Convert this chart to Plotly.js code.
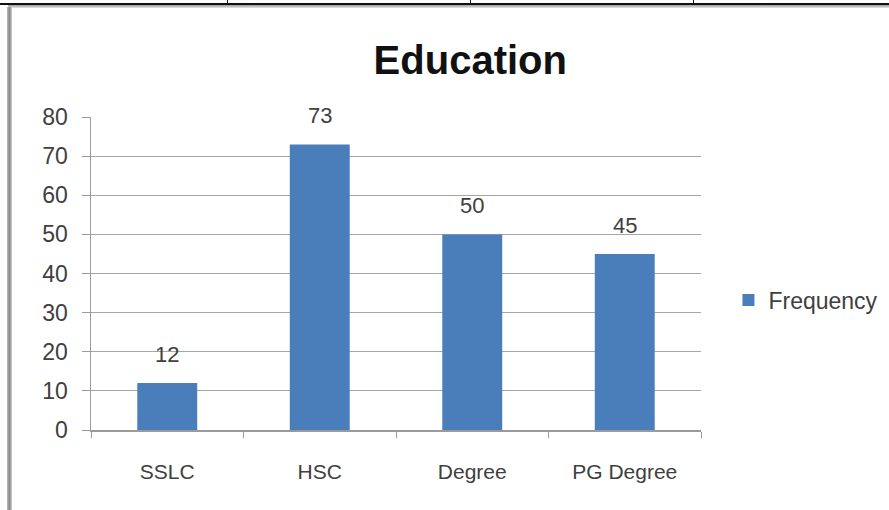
<!DOCTYPE html>
<html>
<head>
<meta charset="utf-8">
<script src="https://cdn.plot.ly/plotly-3.0.1.min.js"></script>
<style>
  html, body { margin: 0; padding: 0; background: #ffffff; }
  #wrap { position: relative; width: 889px; height: 510px; overflow: hidden; }
  #chart { position: absolute; left: 0; top: 0; width: 889px; height: 510px; }
  .rule { position: absolute; pointer-events: none; }
</style>
</head>
<body>
<div id="wrap">
  <div id="chart"></div>
  <!-- table rules around the chart frame -->
  <div class="rule" style="left:0;top:3px;width:889px;height:2px;background:#111;"></div>
  <div class="rule" style="left:227px;top:0;width:1px;height:4px;background:#111;"></div>
  <div class="rule" style="left:470px;top:0;width:1px;height:4px;background:#111;"></div>
  <div class="rule" style="left:693px;top:0;width:1px;height:4px;background:#111;"></div>
  <div class="rule" style="left:8px;top:5px;width:881px;height:3px;background:linear-gradient(#9a9a9a,#e6e6e6);"></div>
  <div class="rule" style="left:7px;top:7px;width:5px;height:503px;background:linear-gradient(90deg,#bdbdbd,#8a8a8a,#cfcfcf);"></div>
</div>
<script>
// Education level counts
const categories = ['SSLC', 'HSC', 'Degree', 'PG Degree'];
const frequency = [12, 73, 50, 45];
const seriesName = 'Frequency';
const yTicks = [0, 10, 20, 30, 40, 50, 60, 70, 80];

const FONT = 'Liberation Sans, Arial, sans-serif';
const TEXT_GREY = '#404040';

const trace = {
  type: 'bar',
  x: categories,
  y: frequency,
  name: seriesName,
  marker: { color: '#4a7ebb' },
  showlegend: true,
  hoverinfo: 'x+y'
};

// value labels above each bar
const valueLabels = categories.map((c, i) => ({
  x: c,
  y: frequency[i],
  xref: 'x',
  yref: 'y',
  text: String(frequency[i]),
  showarrow: false,
  yanchor: 'bottom',
  yshift: 14,
  font: { family: FONT, size: 22, color: TEXT_GREY }
}));

const layout = {
  width: 889,
  height: 510,
  margin: { l: 91, r: 188, t: 117, b: 80, autoexpand: false },
  paper_bgcolor: '#ffffff',
  plot_bgcolor: '#ffffff',
  bargap: 0.607,
  title: {
    text: '<b>Education</b>',
    font: { family: FONT, size: 40, color: '#111111' },
    xref: 'container',
    x: 0.529,
    xanchor: 'center',
    yref: 'container',
    y: 1 - 60 / 510,
    yanchor: 'middle'
  },
  xaxis: {
    type: 'category',
    tickson: 'boundaries',
    ticks: 'outside',
    ticklen: 6,
    tickcolor: '#9a9a9a',
    showline: true,
    linecolor: '#9a9a9a',
    linewidth: 1.5,
    showgrid: false,
    tickfont: { family: FONT, size: 21, color: TEXT_GREY },
    ticklabelstandoff: 22
  },
  yaxis: {
    range: [0, 80],
    tickvals: yTicks,
    ticks: 'outside',
    ticklen: 8,
    tickcolor: '#9a9a9a',
    showline: true,
    linecolor: '#9a9a9a',
    linewidth: 1.5,
    showgrid: true,
    gridcolor: '#a6a6a6',
    gridwidth: 1,
    zeroline: false,
    tickfont: { family: FONT, size: 23, color: TEXT_GREY },
    ticklabelstandoff: 9
  },
  legend: {
    x: 1.045,
    xanchor: 'left',
    y: 0.415,
    yanchor: 'middle',
    bgcolor: 'rgba(0,0,0,0)',
    font: { family: FONT, size: 23, color: TEXT_GREY }
  },
  annotations: valueLabels
};

Plotly.newPlot('chart', [trace], layout, { displayModeBar: false, staticPlot: true });
</script>
</body>
</html>
